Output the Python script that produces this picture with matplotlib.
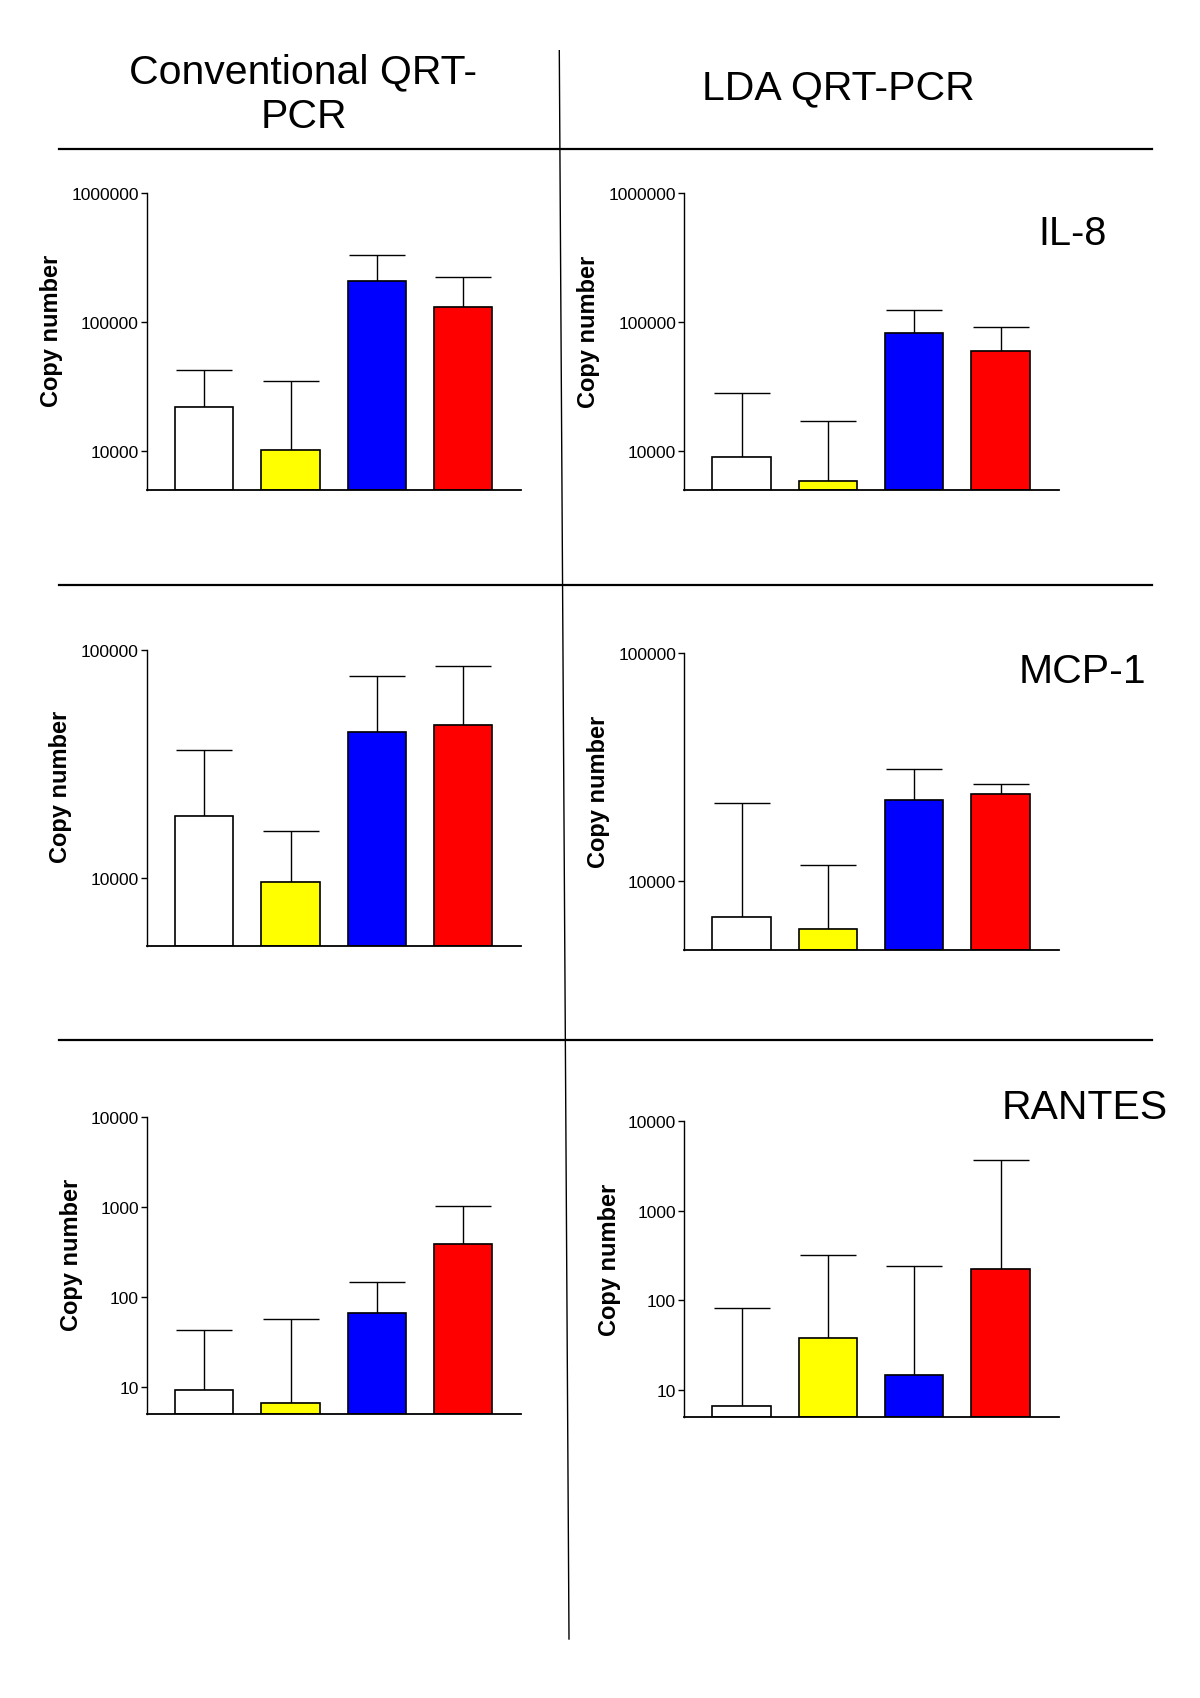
import matplotlib
matplotlib.use('Agg')
import matplotlib.pyplot as plt
from matplotlib.lines import Line2D
import numpy as np

plt.rcParams['font.family'] = ['Liberation Sans', 'DejaVu Sans']

# bar colours, one per group (same order in every panel)
colores = ['white', '#FFFF00', '#0000FF', '#FF0000']

# IL-8
il8_conv = [21800, 10200, 209000, 130000]
il8_conv_err = [42300, 34800, 334000, 225000]
il8_lda = [9040, 5790, 81700, 60000]
il8_lda_err = [28100, 17100, 125000, 91000]

# MCP-1
mcp_conv = [18600, 9570, 43800, 46900]
mcp_conv_err = [36400, 16100, 77200, 84800]
mcp_lda = [6950, 6180, 22700, 24200]
mcp_lda_err = [22100, 11800, 31000, 26700]

# RANTES
rantes_conv = [9.3, 6.5, 66, 388]
rantes_conv_err = [43, 56, 145, 1030]
rantes_lda = [6.6, 38.5, 14.9, 225]
rantes_lda_err = [82, 322, 240, 3650]

fig = plt.figure(figsize=(12, 16.99), dpi=100)
W, H = 1200.0, 1699.0


def px_axes(x0, x1, ytop, ybot):
    return fig.add_axes([x0 / W, 1 - ybot / H, (x1 - x0) / W, (ybot - ytop) / H])


def panel(ax, vals, tops, ymin, ymax):
    x = np.arange(len(vals))
    vals = np.array(vals)
    tops = np.array(tops)
    ax.bar(x, vals - ymin, bottom=ymin, width=0.675, color=colores,
           edgecolor='black', linewidth=1.2, zorder=2)
    ax.errorbar(x, vals, yerr=[np.zeros(len(vals)), tops - vals], fmt='none',
                ecolor='black', elinewidth=1.0, capsize=20, capthick=1.0, zorder=1)
    ax.set_yscale('log')
    ax.set_ylim(ymin, ymax)
    ax.set_xlim(-0.67, 3.675)
    ax.spines['top'].set_visible(False)
    ax.spines['right'].set_visible(False)
    ax.spines['left'].set_linewidth(1.0)
    ax.spines['bottom'].set_linewidth(1.3)
    ax.set_xticks([])
    dec = 10.0 ** np.arange(np.ceil(np.log10(ymin)), np.log10(ymax) + 0.01)
    ax.set_yticks(dec)
    ax.set_yticklabels(['%d' % d for d in dec])
    ax.yaxis.set_minor_locator(matplotlib.ticker.NullLocator())
    ax.tick_params(axis='y', direction='out', length=4.5, width=1.0, labelsize=12.5, pad=1)


ax1 = px_axes(146.6, 521.2, 194.3, 490.7)
panel(ax1, il8_conv, il8_conv_err, 5000, 1e6)
ax2 = px_axes(683.7, 1058.8, 194.3, 490.7)
panel(ax2, il8_lda, il8_lda_err, 5000, 1e6)
ax3 = px_axes(146.6, 521.2, 651, 947.3)
panel(ax3, mcp_conv, mcp_conv_err, 5000, 1e5)
ax4 = px_axes(683.7, 1058.8, 654.3, 951)
panel(ax4, mcp_lda, mcp_lda_err, 5000, 1e5)
ax5 = px_axes(146.6, 521.2, 1118.3, 1414.7)
panel(ax5, rantes_conv, rantes_conv_err, 5, 1e4)
ax6 = px_axes(683.7, 1058.8, 1121.7, 1418.3)
panel(ax6, rantes_lda, rantes_lda_err, 5, 1e4)

# y labels
for (xc, yc) in [(52, 331), (589, 332), (61, 787), (598.5, 792), (71.5, 1255), (609.5, 1260)]:
    fig.text(xc / W, 1 - yc / H, 'Copy number', rotation=90, ha='center', va='center',
             fontsize=17, fontweight='bold')

# column headers
fig.text(303.5 / W, 1 - 95 / H, 'Conventional QRT-\nPCR', ha='center', va='center',
         fontsize=29.5, linespacing=1.22)
fig.text(838 / W, 1 - 88 / H, 'LDA QRT-PCR', ha='center', va='center', fontsize=29.5)

# cytokine names
fig.text(1073 / W, 1 - 234 / H, 'IL-8', ha='center', va='center', fontsize=28.5)
fig.text(1082 / W, 1 - 672 / H, 'MCP-1', ha='center', va='center', fontsize=29.5)
fig.text(1085 / W, 1 - 1108 / H, 'RANTES', ha='center', va='center', fontsize=29.5)

# divider lines
for yl in [149.8, 586, 1041]:
    fig.add_artist(Line2D([59.3 / W, 1151.7 / W], [1 - yl / H, 1 - yl / H],
                          color='black', linewidth=1.6))
fig.add_artist(Line2D([559.3 / W, 569 / W], [1 - 51.7 / H, 1 - 1640 / H],
                      color='black', linewidth=1.0))

fig.savefig('out.png', dpi=100)
